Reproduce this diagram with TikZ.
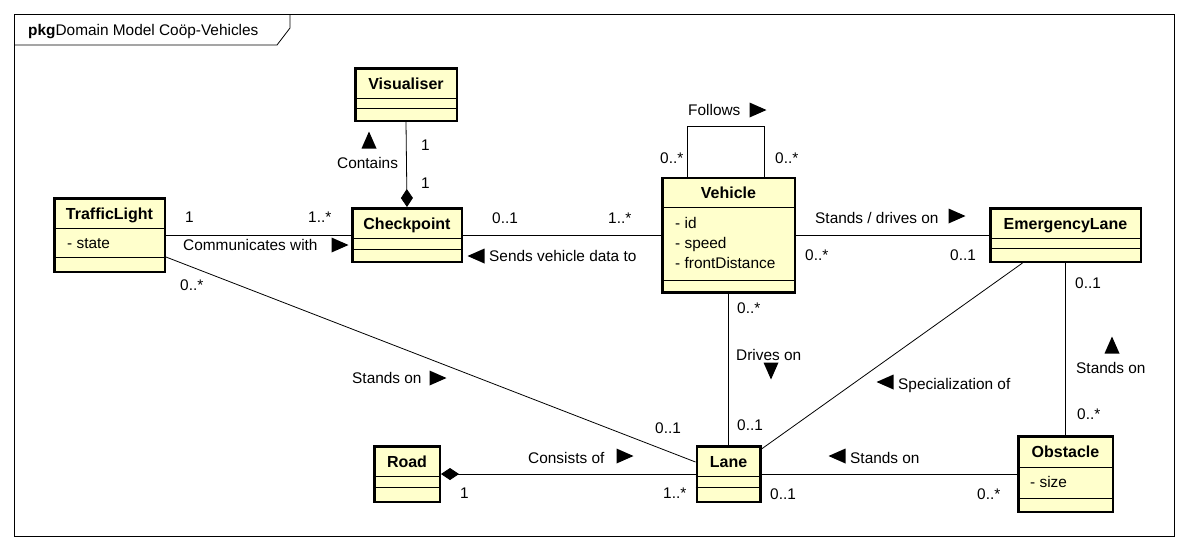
\documentclass[tikz,border=0pt]{standalone}
\usepackage{fontspec}
\setmainfont{Liberation Sans}
\usetikzlibrary{arrows.meta,positioning}
\definecolor{clsfill}{RGB}{255,255,204}

\begin{document}
\begin{tikzpicture}
  [x=1pt,y=-1pt,
   every node/.style={inner sep=0,font=\fontsize{15.4}{18}\selectfont},
   cls/.style={draw,line width=2.5pt,fill=clsfill},
   ttl/.style={anchor=base,font=\fontsize{16}{19}\selectfont\bfseries},
   lbl/.style={anchor=base west},
   comp/.style={line width=0.8pt},
   assoc/.style={line width=0.8pt},
   dirmark/.pic={\fill (-8.5pt,-7.5pt) -- (8.5pt,0pt) -- (-8.5pt,7.5pt) -- cycle;}]
  \fill[white] (0,0) rectangle (1188,550);
  \useasboundingbox (0,0) rectangle (1188,550);

  % package frame
  \draw[line width=0.8pt] (14,14) rectangle (1174,536);
  \draw[line width=0.8pt] (14,45) -- (277,45) -- (290,28) -- (290,14);
  \node[lbl] (pkgT) at (28,35) {\textbf{pkg}Domain Model Coöp-Vehicles};

  % classes
  \node[cls,minimum width=101.5pt,minimum height=52.5pt] (vis) at (406,94.5) {};
  \node[cls,minimum width=109.5pt,minimum height=53.5pt] (cp) at (407,235) {};
  \node[cls,minimum width=110.5pt,minimum height=73.5pt] (tl) at (109.5,235) {};
  \node[cls,minimum width=132.5pt,minimum height=114.5pt] (veh) at (728.5,235) {};
  \node[cls,minimum width=150.5pt,minimum height=53.5pt] (el) at (1065.5,235) {};
  \node[cls,minimum width=65.5pt,minimum height=55.5pt] (road) at (407,474) {};
  \node[cls,minimum width=63.5pt,minimum height=55.5pt] (lane) at (728.5,474) {};
  \node[cls,minimum width=94.5pt,minimum height=75.5pt] (obs) at (1065.5,474) {};
\foreach \n/\a/\b in {vis/98/108,cp/238/249,tl/228/257,veh/207/280,el/238/248,road/476/487,lane/476/487,obs/467/498}
  {
    \draw[comp] (\n.west |- 0,\a) -- (\n.east |- 0,\a);
    \draw[comp] (\n.west |- 0,\b) -- (\n.east |- 0,\b);
  }
  \node[ttl] (visT) at (406,89) {Visualiser};
  \node[ttl] (cpT) at (407,229) {Checkpoint};
  \node[ttl] (tlT) at (109.5,219) {TrafficLight};
  \node[ttl] (vehT) at (728.5,198) {Vehicle};
  \node[ttl] (elT) at (1065.5,229) {EmergencyLane};
  \node[ttl] (roadT) at (407,467) {Road};
  \node[ttl] (laneT) at (728.5,467) {Lane};
  \node[ttl] (obsT) at (1065.5,457) {Obstacle};
  \node[lbl] (tlA) at (67,248) {- state};
  \node[lbl] (vehA1) at (675,228) {- id};
  \node[lbl] (vehA2) at (675,248) {- speed};
  \node[lbl] (vehA3) at (675,268) {- frontDistance};
  \node[lbl] (obsA) at (1030,487) {- size};

  % associations
  \draw[assoc,-{Diamond[length=18pt,width=12pt]}] (vis.south) -- (cp.north);
  \draw[assoc] (tl.east) -- (cp.west);
  \draw[assoc] (cp.east) -- (veh.west);
  \draw[assoc] (veh.east) -- (el.west);
  \draw[assoc] ([xshift=-41pt]veh.north) -- ++(0,-50) -- ++(77,0) -- ++(0,50);
  \draw[assoc] (veh.south) -- (lane.north);
  \draw[assoc] ([yshift=-22pt]tl.east) -- ([yshift=12pt]lane.west);
  \draw[assoc,{Diamond[length=18pt,width=12pt]}-] (road.east) -- (lane.west);
  \draw[assoc] ([xshift=-43pt]el.south) -- ([yshift=25pt]lane.east);
  \draw[assoc] (lane.east) -- (obs.west);
  \draw[assoc] (el.south) -- (obs.north);

  % labels
  \node[lbl] (m1) at (421,150) {1};
  \node[lbl] (m2) at (421,188) {1};
  \node[lbl] (contT) at (337,168) {Contains};
  \pic[rotate=90] at (369,140) {dirmark};
  \node[lbl] (m3) at (185,222) {1};
  \node[lbl] (m4) at (308,222) {1..*};
  \node[lbl] (commT) at (183,250) {Communicates with};
  \pic at (340,245) {dirmark};
  \node[lbl] (m5) at (492,223) {0..1};
  \node[lbl] (m6) at (608,223) {1..*};
  \pic[rotate=180] at (476,256) {dirmark};
  \node[lbl] (sendT) at (489,261) {Sends vehicle data to};
  \node[lbl] (follT) at (688,115) {Follows};
  \pic at (758,110) {dirmark};
  \node[lbl] (m7) at (660,163) {0..*};
  \node[lbl] (m8) at (775,163) {0..*};
  \node[lbl] (drvT) at (815,223) {Stands / drives on};
  \pic at (957,216) {dirmark};
  \node[lbl] (m9) at (805,260) {0..*};
  \node[lbl] (m10) at (950,260) {0..1};
  \node[lbl] (m11) at (180,290) {0..*};
  \node[lbl] (standT1) at (352,383) {Stands on};
  \pic at (438,378) {dirmark};
  \node[lbl] (m12) at (655,433) {0..1};
  \node[lbl] (consT) at (528,463) {Consists of};
  \pic at (625,456) {dirmark};
  \node[lbl] (m13) at (460,498) {1};
  \node[lbl] (m14) at (663,498) {1..*};
  \node[lbl] (m15) at (737,313) {0..*};
  \node[lbl] (drT) at (736,360) {Drives on};
  \pic[rotate=-90] at (771,371) {dirmark};
  \node[lbl] (m16) at (737,430) {0..1};
  \pic[rotate=180] at (885,382) {dirmark};
  \node[lbl] (specT) at (898,389) {Specialization of};
  \pic[rotate=180] at (837,456) {dirmark};
  \node[lbl] (standT2) at (850,463) {Stands on};
  \node[lbl] (m17) at (770,499) {0..1};
  \node[lbl] (m18) at (977,499) {0..*};
  \node[lbl] (m19) at (1075,288) {0..1};
  \pic[rotate=90] at (1112,345) {dirmark};
  \node[lbl] (standT3) at (1076,373) {Stands on};
  \node[lbl] (m20) at (1077,419) {0..*};

\end{tikzpicture}
\end{document}
